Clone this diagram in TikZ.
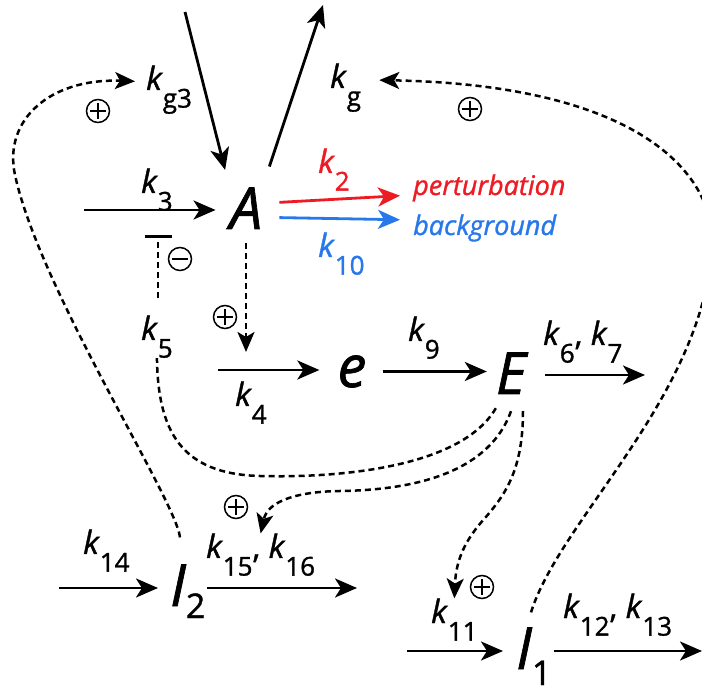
\documentclass[tikz,border=0pt]{standalone}
\usepackage{fontspec}
\setmainfont{Open Sans}[FakeBold=1.2]
\usepackage{tikz}
\usetikzlibrary{arrows.meta}
\definecolor{pertred}{RGB}{237,28,36}
\definecolor{bgblue}{RGB}{38,120,235}
\newcommand{\rk}[1]{\textit{k}\raisebox{-0.55em}{\fontsize{26}{26}\selectfont #1}}
\newcommand{\spsub}[2]{\raisebox{#1}{\upshape\fontsize{34}{34}\selectfont #2}}
\tikzset{
  species/.style={inner sep=0pt, font=\fontsize{58}{58}\selectfont\itshape},
  rate/.style   ={inner sep=0pt, anchor=base west, font=\fontsize{32}{32}\selectfont},
  note/.style   ={inner sep=0pt, anchor=base west, font=\fontsize{27}{27}\selectfont\itshape},
  arr/.style    ={-{Stealth[length=22pt, width=19pt, inset=6pt]}, line width=2.8pt},
  reg/.style    ={dashed, dash pattern=on 6pt off 4pt, line width=2.5pt},
  regarr/.style ={reg, -{Stealth[length=20pt, width=17pt, inset=5pt]}},
  plus/.style   ={circle, draw, line width=1.5pt, minimum size=23pt, inner sep=0pt,
                  path picture={\draw[line width=1.5pt] (path picture bounding box.center) +(-8pt,0) -- +(8pt,0)
                                (path picture bounding box.center) +(0,-8pt) -- +(0,8pt);}},
  minus/.style  ={circle, draw, line width=1.5pt, minimum size=23pt, inner sep=0pt,
                  path picture={\draw[line width=1.5pt] (path picture bounding box.center) +(-8pt,0) -- +(8pt,0);}},
}

\begin{document}
\begin{tikzpicture}[x=1pt, y=1pt]
  \useasboundingbox (0,0) rectangle (702,-692);

  \node[species, anchor=base] (A) at (246,-229) {A};
  \node[species, anchor=base] (e) at (352,-387) {e};
  \node[species, anchor=base] (E) at (511,-394) {E};
  \node[species, anchor=base west] (I2) at (170,-606) {I\spsub{-12pt}{2}};
  \node[species, anchor=base west] (I1) at (516,-669) {I\spsub{-16pt}{1}};

  \node[rate] (kg3) at (146,-90) {\rk{g3}};
  \node[rate] (kg) at (330,-88) {\rk{g}};
  \node[rate] (k3) at (141,-193) {\rk{3}};
  \node[rate, text=pertred] (k2) at (318,-173) {\rk{2}};
  \node[rate, text=bgblue] (k10) at (318,-257) {\rk{10}};
  \node[rate] (k5) at (141,-340) {\rk{5}};
  \node[rate] (k4) at (235,-406) {\rk{4}};
  \node[rate] (k9) at (408,-341) {\rk{9}};
  \node[rate] (k67) at (543,-345) {\rk{6}, \rk{7}};
  \node[rate] (k14) at (83,-554) {\rk{14}};
  \node[rate] (k1516) at (206,-558) {\rk{15}, \rk{16}};
  \node[rate] (k11) at (431,-623) {\rk{11}};
  \node[rate] (k1213) at (563,-618) {\rk{12}, \rk{13}};

  \node[note, text=pertred] (pert) at (413,-195) {perturbation};
  \node[note, text=bgblue] (bg) at (413,-235) {background};

  \coordinate (gin) at (185,-12);
  \coordinate (gout) at (323,-5);
  \coordinate (k3s) at (84,-210);
  \coordinate (k4s) at (218,-370);
  \coordinate (k67e) at (645,-375);
  \coordinate (k14s) at (59,-588);
  \coordinate (k1516e) at (357,-588);
  \coordinate (k11s) at (407,-651);
  \coordinate (k1213e) at (702,-651);
  \coordinate (inhib) at (158,-235);

  \draw[arr, shorten >=18pt] (gin) -- (A.north west);
  \draw[arr, shorten <=22pt] (A.north east) -- (gout);
  \draw[arr, shorten >=14pt] (k3s) -- (k3s -| A.west);
  \draw[arr, pertred, shorten <=17pt, shorten >=13pt] ([yshift=5pt]A.east) -- ([yshift=-7pt]pert.west);
  \draw[arr, bgblue, shorten <=17pt, shorten >=13pt] ([yshift=-9pt]A.east) -- ([yshift=8pt]bg.west);
  \draw[arr, shorten >=18pt] (k4s) -- (k4s -| e.west);
  \draw[arr, shorten <=16pt, shorten >=9pt] (e.east) -- (e.east -| E.west);
  \draw[arr, shorten <=19pt] (E.east |- k67e) -- (k67e);
  \draw[arr, shorten >=12pt] (k14s) -- (k14s -| I2.west);
  \draw[arr, shorten <=1pt] (I2.east |- k1516e) -- (k1516e);
  \draw[arr, shorten >=13pt] (k11s) -- (k11s -| I1.west);
  \draw[arr, shorten <=2pt] (I1.east |- k1213e) -- (k1213e);

  \draw[regarr, shorten <=14pt, shorten >=18pt] (A.south) -- (A.south |- k4s);
  \draw[reg] ([yshift=-14pt]E.south west) .. controls (460,-470) and (330,-478) .. (260,-476)
    .. controls (180,-474) and (158,-430) .. (k5.south);
  \draw[reg, -{Bar[width=27pt, line width=2.6pt]}, shorten <=17pt] (k5.north -| inhib) -- (inhib);
  \draw[regarr] ([yshift=-17pt]E.south) .. controls (490,-470) and (420,-490) .. (340,-491)
    .. controls (300,-491.5) and (268,-500) .. (k1516.north);
  \draw[regarr] ([xshift=12pt, yshift=-17pt]E.south) .. controls (523,-470) and (505,-495) .. (485,-518)
    .. controls (465,-540) and (456,-560) .. (k11.north);
  \draw[regarr, shorten >=11pt] ([xshift=10pt, yshift=27pt]I2.north west) .. controls (176,-500) and (40,-290) .. (15,-175)
    .. controls (3,-120) and (50,-78) .. ([yshift=8pt]kg3.west);
  \draw[regarr, shorten >=18pt] ([xshift=15pt, yshift=15pt]I1.north west) .. controls (560,-520) and (700,-400) .. (712,-250)
    .. controls (718,-175) and (640,-85) .. ([yshift=8pt]kg.east);

  \node[plus] (p1) at (98,-111) {};
  \node[plus] (p2) at (470,-109) {};
  \node[minus] (m1) at (180,-259) {};
  \node[plus] (p3) at (225,-317) {};
  \node[plus] (p4) at (236,-507) {};
  \node[plus] (p5) at (482,-587) {};
\end{tikzpicture}
\end{document}
